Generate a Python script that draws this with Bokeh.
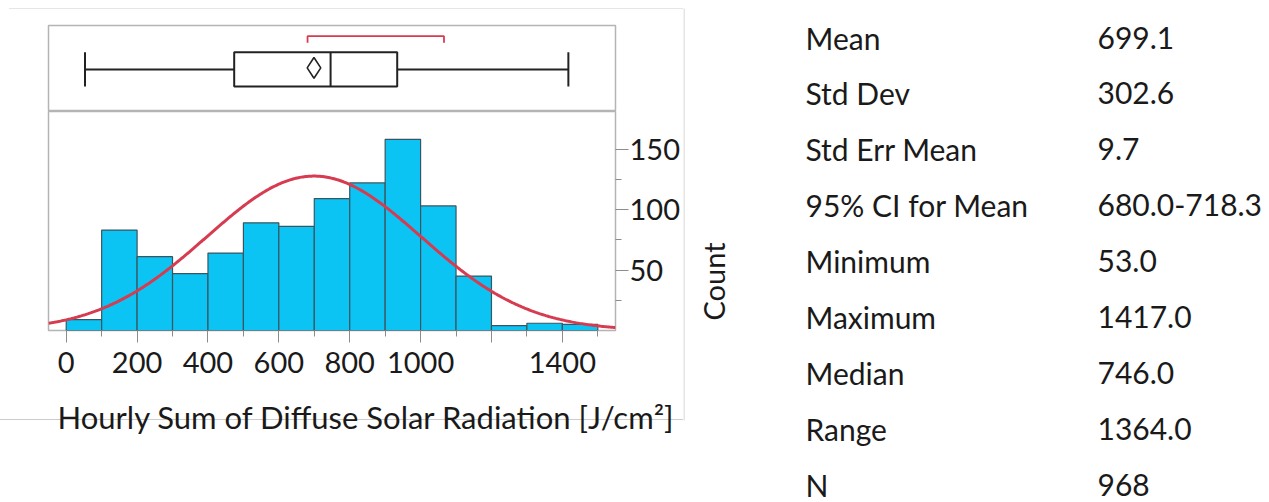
import numpy as np
from bokeh.plotting import figure
from bokeh.layouts import row, column
from bokeh.models import Range1d, FixedTicker, Title
from bokeh.core.properties import value
from bokeh.embed import file_html
from bokeh.resources import INLINE

# ---------------- data ----------------
bin_edges = [0, 100, 200, 300, 400, 500, 600, 700, 800, 900, 1000, 1100, 1200, 1300, 1400, 1500]
counts = [9, 83, 61, 47, 64, 89, 86, 109, 122, 158, 103, 45, 4, 6, 5]
x_major_ticks = [0, 200, 400, 600, 800, 1000, 1200, 1400]
x_tick_labels = ["0", "200", "400", "600", "800", "1000", "", "1400"]
x_minor_ticks = [100, 300, 500, 700, 900, 1100, 1300, 1500]
y_tick_values = [50, 100, 150]
y_minor_ticks = [25, 75, 125]

mean_v = 699.1
std_v = 302.6
ci_lo, ci_hi = 680.0, 718.3
min_v, max_v = 53.0, 1417.0
median_v = 746.0
q1_v, q3_v = 474.0, 934.0
shortest_half = [681.0, 1066.0]
n_obs = 968
bin_width = 100

stat_names = ["Mean", "Std Dev", "Std Err Mean", "95% CI for Mean", "Minimum",
              "Maximum", "Median", "Range", "N"]
stat_values = ["699.1", "302.6", "9.7", "680.0-718.3", "53.0",
               "1417.0", "746.0", "1364.0", "968"]

x_title = "Hourly Sum of Diffuse Solar Radiation [J/cm\u00b2]"
y_title = "Count"

FONT = "Lato"
BAR_FILL = "#0BC4F3"
BAR_LINE = "#3B5560"
RED = "#D63B50"
FRAME = "#b4b4b4"
TXT = "#1a1a1a"


def faint_line(x, y, w, color):
    return {
        "background-color": "white",
        "background-image": f"linear-gradient({color},{color})",
        "background-size": f"{w}px 1px",
        "background-position": f"{x}px {y}px",
        "background-repeat": "no-repeat",
    }


# ---------------- box plot panel ----------------
bx = figure(width=683, height=111, output_backend="svg", toolbar_location=None,
            x_range=Range1d(-50, 1550), y_range=Range1d(0, 86),
            x_axis_location=None, y_axis_location=None,
            min_border_left=48, min_border_right=68, min_border_top=25, min_border_bottom=0,
            styles=faint_line(9, 8, 674, "#e6e6e6"))
bx.grid.visible = False
bx.outline_line_color = FRAME
bx.outline_line_width = 1.5
bx.background_fill_color = "white"
bx.border_fill_color = None

box_lo, box_hi, wy = 25, 59.3, 42
bx.segment(x0=[min_v, q3_v], x1=[q1_v, max_v], y0=[wy, wy], y1=[wy, wy],
           line_color="#222222", line_width=2)
bx.segment(x0=[min_v, max_v], x1=[min_v, max_v], y0=[box_lo, box_lo], y1=[box_hi, box_hi],
           line_color="#222222", line_width=2)
bx.quad(left=[q1_v], right=[q3_v], bottom=[box_lo], top=[box_hi],
        fill_color=None, line_color="#222222", line_width=2)
bx.segment(x0=[median_v], x1=[median_v], y0=[box_lo], y1=[box_hi],
           line_color="#222222", line_width=2)
dy_mid = 43.6
bx.patch(x=[ci_lo, mean_v, ci_hi, mean_v], y=[dy_mid, 54, dy_mid, 33.3],
         fill_color=None, line_color="#222222", line_width=1.6)
bx.line(x=[shortest_half[0], shortest_half[0], shortest_half[1], shortest_half[1]],
        y=[68.7, 75.3, 75.3, 68.7], line_color=RED, line_width=1.8)

# ---------------- histogram panel ----------------
hp = figure(width=683, height=391, output_backend="svg", toolbar_location=None,
            x_range=Range1d(-50, 1550), y_range=Range1d(0, 181),
            y_axis_location="right",
            min_border_left=48, min_border_right=68, min_border_top=0, min_border_bottom=172,
            styles=faint_line(0, 308, 683, "#cccccc"))
hp.grid.visible = False
hp.outline_line_color = FRAME
hp.outline_line_width = 1.5
hp.background_fill_color = "white"
hp.border_fill_color = None

hp.quad(left=bin_edges[:-1], right=bin_edges[1:], bottom=0, top=counts,
        fill_color=BAR_FILL, line_color=BAR_LINE, line_width=1.2)

xs = np.linspace(-50, 1550, 400)
ys = n_obs * bin_width / (std_v * np.sqrt(2 * np.pi)) * np.exp(-0.5 * ((xs - mean_v) / std_v) ** 2)
hp.line(xs, ys, line_color=RED, line_width=3)

xa = hp.xaxis[0]
xa.ticker = FixedTicker(ticks=x_major_ticks, minor_ticks=x_minor_ticks)
xa.major_label_overrides = {v: l for v, l in zip(x_major_ticks, x_tick_labels)}
xa.axis_line_color = None
xa.major_tick_line_color = "#8c8c8c"
xa.minor_tick_line_color = "#8c8c8c"
xa.major_tick_out = 12
xa.major_tick_in = 0
xa.minor_tick_out = 6
xa.minor_tick_in = 0
xa.major_label_standoff = 9
xa.major_label_text_font = FONT
xa.major_label_text_font_size = "29px"
xa.major_label_text_color = TXT

ya = hp.yaxis[0]
ya.ticker = FixedTicker(ticks=y_tick_values, minor_ticks=y_minor_ticks)
ya.axis_line_color = None
ya.major_tick_line_color = "#8c8c8c"
ya.minor_tick_line_color = "#8c8c8c"
ya.major_tick_out = 13
ya.major_tick_in = 0
ya.minor_tick_out = 6
ya.minor_tick_in = 0
ya.major_label_standoff = 1
ya.major_label_text_font = FONT
ya.major_label_text_font_size = "29px"
ya.major_label_text_color = TXT

ttl = Title(text=x_title, align="left", offset=9, standoff=40,
            text_font=FONT, text_font_size="31px", text_font_style="normal",
            text_color=TXT)
hp.add_layout(ttl, "below")

# ---------------- statistics table ----------------
tb = figure(width=586, height=502, output_backend="svg", toolbar_location=None,
            x_range=Range1d(0, 586), y_range=Range1d(502, 0),
            x_axis_location=None, y_axis_location=None,
            min_border_left=0, min_border_right=0, min_border_top=0, min_border_bottom=0)
tb.grid.visible = False
tb.outline_line_color = None
tb.background_fill_color = "white"
tb.border_fill_color = "white"

row_y = [37 + 55.9 * i for i in range(len(stat_names))]
tb.text(x=[122] * len(stat_names), y=row_y, text=stat_names,
        text_font=value(FONT), text_font_size="30px", text_color=TXT,
        text_align="left", text_baseline="middle")
tb.text(x=[414] * len(stat_values), y=row_y, text=stat_values,
        text_font=value(FONT), text_font_size="30px", text_color=TXT,
        text_align="left", text_baseline="middle")
tb.text(x=[30], y=[281], text=[y_title], angle=np.pi / 2,
        text_font=value(FONT), text_font_size="29px", text_color=TXT,
        text_align="center", text_baseline="middle")
tb.segment(x0=[0.5], x1=[0.5], y0=[8], y1=[420], line_color="#cccccc", line_width=1)

layout = row(column(bx, hp, spacing=0), tb, spacing=0)
open("out.html", "w").write(file_html(layout, INLINE))
